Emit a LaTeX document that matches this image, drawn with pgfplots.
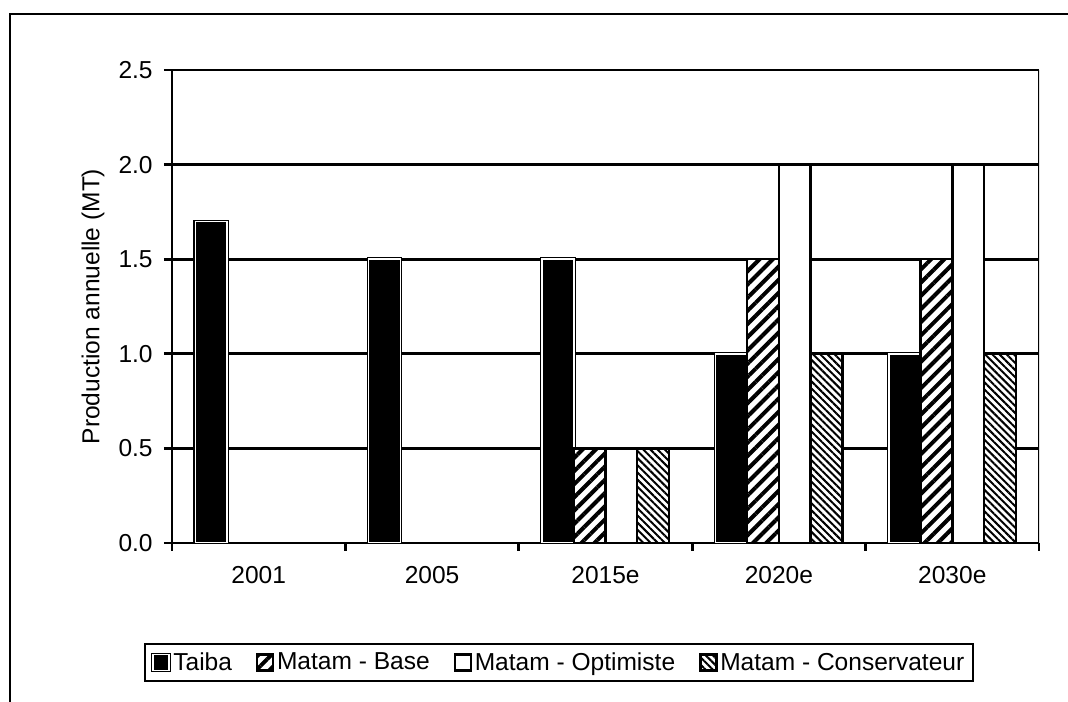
\documentclass[border=0pt]{standalone}
\usepackage{fontspec}
\setmainfont{Liberation Sans}
\usepackage{pgfplots}
\pgfplotsset{compat=1.18}
\usetikzlibrary{patterns.meta}

\newcommand{\chartfont}{\fontsize{18.4}{22}\selectfont}

\begin{document}
\begin{tikzpicture}[x=1pt,y=1pt]
\useasboundingbox (0,0) rectangle (801,526.5);
% outer chart frame
\draw[line width=2.2pt] (7.5,-30) rectangle (840,516);
\begin{axis}[
  at={(129pt,119.25pt)}, anchor=south west,
  scale only axis, width=650.25pt, height=354.75pt,
  xmin=-0.5, xmax=4.5, ymin=0, ymax=2.5,
  ybar=0pt, bar width=0.183,
  axis x line*=bottom, axis y line*=left,
  axis line style={line width=2pt, black},
  tick style={line width=2pt, black},
  tick align=outside, major tick length=6pt,
  xtick={-0.5,0.5,1.5,2.5,3.5,4.5}, xticklabels={},
  extra x ticks={0,1,2,3,4},
  extra x tick labels={2001,2005,2015e,2020e,2030e},
  extra x tick style={major tick length=0pt, grid=none,
    xticklabel style={font=\chartfont, yshift=-14pt}},
  ytick={0,0.5,1,1.5,2,2.5},
  yticklabel style={/pgf/number format/fixed, /pgf/number format/fixed zerofill,
    /pgf/number format/precision=1, /pgf/number format/assume math mode=true},
  every tick label/.append style={font=\chartfont},
  yticklabel style={xshift=-5pt},
  ymajorgrids, grid style={line width=2pt, black},
  ylabel={Production annuelle (MT)},
  ylabel style={at={(axis description cs:-0.0911,0.5)}, anchor=center, font=\chartfont},
  legend columns=-1,
  legend style={at={(axis description cs:0.4464,-0.2526)}, anchor=center,
    draw=black, line width=1.8pt, font=\chartfont, inner sep=4.5pt,
    /tikz/every even column/.append style={column sep=16pt}},
  legend image code/.code={\draw[#1] (0pt,-6pt) rectangle (12pt,6pt);},
]
\addplot[fill=black, draw=black, double=white, double distance=1.1pt, line width=0.8pt]
  coordinates {(0,1.7) (1,1.5) (2,1.5) (3,1.0) (4,1.0)};
\addplot[fill=white, draw=black, line width=1.8pt,
  postaction={pattern={Lines[angle=45,distance=7pt,line width=3pt]}}]
  coordinates {(2,0.5) (3,1.5) (4,1.5)};
\addplot[fill=white, draw=black, line width=1.8pt]
  coordinates {(3,2.0) (4,2.0)};
\addplot[fill=white, draw=black, line width=1.8pt,
  postaction={pattern={Lines[angle=-45,distance=3.8pt,line width=1.5pt]}}]
  coordinates {(2,0.5) (3,1.0) (4,1.0)};
\legend{Taiba,Matam - Base,Matam - Optimiste,Matam - Conservateur}
% right border of the plot area
\draw[line width=1.2pt] (rel axis cs:1,0) -- (rel axis cs:1,1);
\end{axis}
\end{tikzpicture}
\end{document}
